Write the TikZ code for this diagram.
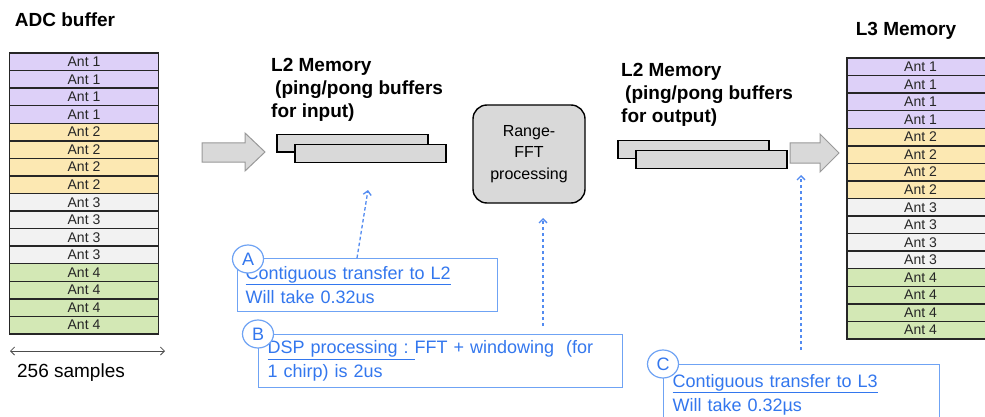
\documentclass[tikz,border=0pt]{standalone}
\usepackage{fontspec}
\setmainfont{Liberation Sans}
\usetikzlibrary{shapes.geometric,arrows.meta,calc}
\definecolor{ant1}{HTML}{DDD0F8}
\definecolor{ant2}{HTML}{FCE8B2}
\definecolor{ant3}{HTML}{F2F2F2}
\definecolor{ant4}{HTML}{D3E8B5}
\definecolor{noteblue}{HTML}{3377EE}
\definecolor{noteline}{HTML}{6FA3F4}
\definecolor{bufgray}{HTML}{D9D9D9}
\tikzstyle{row} = [draw=black!85, line width=1.5pt, minimum width=149, minimum height=17.56, inner sep=0pt, text=black!85, font=\fontsize{14}{14}\selectfont]
\tikzstyle{title} = [font=\fontsize{19}{23}\selectfont\bfseries, inner sep=0pt, align=left]
\tikzstyle{buf} = [draw=black, line width=1.5pt, fill=bufgray, minimum width=151, minimum height=17.5, inner sep=0pt, anchor=north west]
\tikzstyle{fftbox} = [draw=black, line width=1.4pt, fill=bufgray, rounded corners=14pt, minimum width=112, minimum height=98, align=center, font=\fontsize{16}{21.5}\selectfont]
\tikzstyle{bigarrow} = [draw=black!40, fill=bufgray, line width=1pt]
\tikzstyle{note} = [draw=noteline, line width=1.2pt, text=noteblue, align=left, anchor=north west, inner ysep=4pt, font=\fontsize{18}{24}\selectfont]
\tikzstyle{letter} = [ellipse, draw=noteline, line width=1.2pt, fill=white, text=noteblue, minimum width=31, minimum height=28, inner sep=0pt, font=\fontsize{18}{18}\selectfont]
\tikzstyle{pointer} = [draw=noteblue!85, line width=1.3pt, dash pattern=on 3.5pt off 2.5pt, -{Straight Barb[length=4pt,width=8pt]}]
\tikzstyle{dimline} = [draw=black!70, line width=0.8pt, {Straight Barb[length=4pt,width=8pt]}-{Straight Barb[length=4pt,width=8pt]}]

\begin{document}
\begin{tikzpicture}[x=1pt, y=-1pt]
\path[use as bounding box, fill=white] (0,0) rectangle (985,417);

% ADC buffer
\node[title] (adcTitle) at (65,20) {ADC buffer};
\foreach \i in {0,...,15}{
    \pgfmathtruncatemacro\ant{int(\i/4)+1}
    \node[row, fill=ant\ant] (adc\i) at (84, 61.8+17.56*\i) {Ant \ant};
}
\coordinate (dimL) at (10,351);
\coordinate (dimR) at (165,351);
\draw[dimline] (dimL) -- (dimR);
\node[font=\fontsize{19}{19}\selectfont] (samples) at (71,373) {256 samples};

% transfer arrows
\draw[bigarrow] (202,143) -- (245,143) -- (245,133) -- (265,152) -- (245,171) -- (245,162) -- (202,162) -- cycle;
\draw[bigarrow] (790,143) -- (820,143) -- (820,134) -- (839,153) -- (820,172) -- (820,163) -- (790,163) -- cycle;

% L2 input
\node[title, anchor=north west] (l2inTitle) at (271,58) {L2 Memory\\\hspace{4pt}(ping/pong buffers\\for input)};
\node[buf] (inA) at (276,134) {};
\node[buf] (inB) at (294,144) {};

% processing
\node[fftbox] (fft) at (529,154) {Range-\\FFT\\processing};

% L2 output
\node[title, anchor=north west] (l2outTitle) at (621,63) {L2 Memory\\\hspace{4pt}(ping/pong buffers\\for output)};
\node[buf] (outA) at (617,140) {};
\node[buf] (outB) at (635,150) {};

% L3 memory
\node[title] (l3Title) at (906,31) {L3 Memory};
\foreach \i in {0,...,15}{
    \pgfmathtruncatemacro\ant{int(\i/4)+1}
    \node[row, minimum width=147, fill=ant\ant] (l3\i) at (920.5, 66.8+17.56*\i) {Ant \ant};
}

% notes
\node[note, text width=244, inner xsep=8, minimum height=53] (noteA) at (237,258)
    {\underline{Contiguous transfer to L2}\\Will take 0.32us};
\node[letter] (letA) at ($(noteA.north west)+(11,1)$) {A};
\node[note, text width=346, inner xsep=9, minimum height=53] (noteB) at (258,334)
    {\underline{DSP processing :\ }FFT + windowing\ \ (for\\1 chirp) is 2us};
\node[letter] (letB) at (noteB.north west) {B};
\node[note, text width=258, inner xsep=9, minimum height=60] (noteC) at (663,364)
    {\underline{Contiguous transfer to L3}\\Will take 0.32µs};
\node[letter] (letC) at (noteC.north west) {C};

\coordinate (tipA) at (368,190);
\coordinate (tipB) at (543,218);
\coordinate (tipC) at (801,175);
\draw[pointer] ($(noteA.north west)+(120,0)$) -- (tipA);
\draw[pointer] ($(noteB.north west)+(285,-8)$) -- (tipB);
\draw[pointer] ($(noteC.north west)+(138,-14)$) -- (tipC);
\end{tikzpicture}
\end{document}
